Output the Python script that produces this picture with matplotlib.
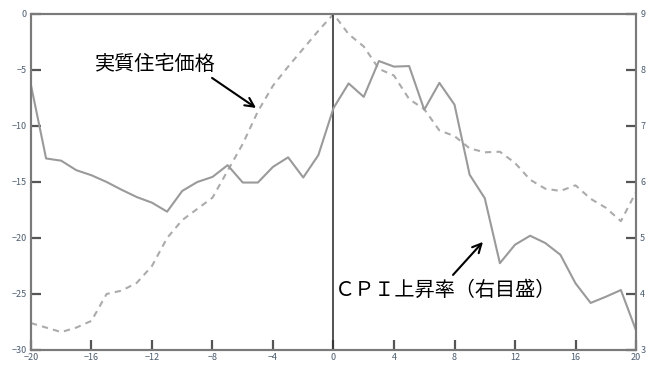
import matplotlib
matplotlib.use("Agg")
import matplotlib.pyplot as plt

plt.rcParams['font.family'] = ['Noto Sans CJK JP', 'DejaVu Sans']

# Quarters relative to the peak
quarters = list(range(-20, 21))

# Real house price (left scale)
house_price = [-27.6, -28.0, -28.4, -28.0, -27.4, -25.0, -24.7, -24.0, -22.5, -20.0,
               -18.4, -17.4, -16.4, -14.0, -11.6, -8.7, -6.4, -4.7, -3.1, -1.5,
               0.0, -1.8, -2.9, -4.9, -5.5, -7.6, -8.5, -10.4, -10.9, -12.0,
               -12.35, -12.3, -13.3, -14.8, -15.6, -15.8, -15.3, -16.5, -17.3, -18.5,
               -15.9]

# CPI inflation (right scale)
cpi_rate = [7.73, 6.42, 6.38, 6.21, 6.12, 6.0, 5.86, 5.73, 5.63, 5.47,
            5.84, 6.0, 6.09, 6.30, 5.99, 5.99, 6.27, 6.44, 6.08, 6.48,
            7.32, 7.76, 7.52, 8.16, 8.06, 8.07, 7.29, 7.77, 7.38, 6.13,
            5.71, 4.55, 4.88, 5.04, 4.91, 4.70, 4.19, 3.84, 3.95, 4.07,
            3.35]

x_ticks = list(range(-20, 21, 4))
left_ticks = [0, -5, -10, -15, -20, -25, -30]
right_ticks = [9, 8, 7, 6, 5, 4, 3]

label_house = '実質住宅価格'
label_cpi = 'ＣＰＩ上昇率（右目盛）'

fig = plt.figure(figsize=(6.52, 3.68), dpi=100)
ax = fig.add_axes([0.0475, 0.049, 0.928, 0.913])
ax2 = ax.twinx()

frame_col = '#7a7a7a'
tick_col = '#4d5d70'

ax.plot(quarters, house_price, color='#ababab', lw=1.5, ls=(0, (3, 2.5)))
ax2.plot(quarters, cpi_rate, color='#9a9a9a', lw=1.5)

# Peak marker
ax.axvline(0, color='#333333', lw=1.2)

ax.set_xlim(-20, 20)
ax.set_ylim(-30, 0)
ax2.set_ylim(3, 9)

ax.set_xticks(x_ticks)
ax.set_yticks(left_ticks)
ax2.set_yticks(right_ticks)

for a in (ax, ax2):
    for s in a.spines.values():
        s.set_color(frame_col)
        s.set_linewidth(1.5)
    a.tick_params(direction='in', length=7, width=1.6, color='#555555',
                  labelsize=6.5, labelcolor=tick_col, pad=3)
ax.tick_params(axis='x', pad=2)

# Labels with arrows
ax.annotate('', xy=(-5.12, -8.39), xytext=(-8.03, -5.71),
            arrowprops=dict(arrowstyle='->', color='black', lw=1.5,
                            shrinkA=0, shrinkB=0, mutation_scale=16))
ax.text(-15.75, -4.55, label_house, fontsize=14.5, ha='left', va='center')

ax2.annotate('', xy=(9.88, 4.93), xytext=(7.9, 4.34),
             arrowprops=dict(arrowstyle='->', color='black', lw=1.5,
                             shrinkA=0, shrinkB=0, mutation_scale=16))
ax2.text(0.1, 4.07, label_cpi, fontsize=14.5, ha='left', va='center')

fig.savefig('out.png', dpi=100)
